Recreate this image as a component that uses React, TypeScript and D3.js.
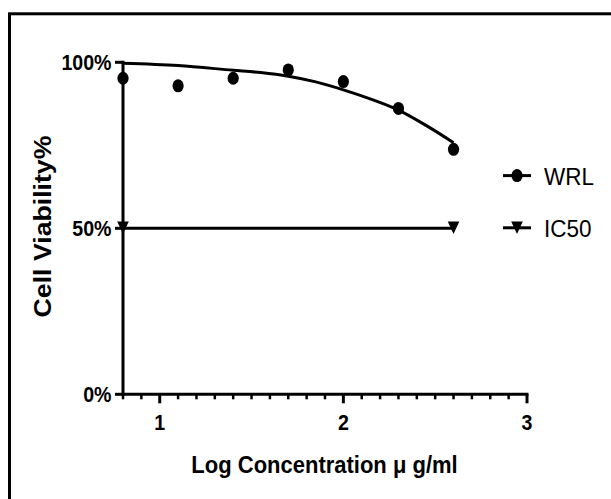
import React from "react";
import * as d3 from "d3";

const wrlX = [0.8, 1.1, 1.4, 1.7, 2.0, 2.3, 2.6];
const wrlY = [95.2, 92.9, 95.2, 97.7, 94.2, 86.1, 73.8];
const fitX = [0.8, 1.1, 1.4, 1.55, 1.7, 1.85, 2.0, 2.15, 2.3, 2.45, 2.6];
const fitY = [99.7, 99.0, 97.6, 96.9, 95.8, 94.1, 91.7, 88.9, 85.6, 81.0, 75.8];
const ic50X = [0.8, 2.6];
const ic50Y = [50, 50];
const xMajorTicks = [1, 2, 3];
const xMinorTicks = [0.8, 0.9, 1.1, 1.2, 1.3, 1.4, 1.5, 1.6, 1.7, 1.8, 1.9, 2.1, 2.2, 2.3, 2.4, 2.5, 2.6, 2.7, 2.8, 2.9];
const yTicks = [0, 50, 100];
const yTickLabels = ["0%", "50%", "100%"];
const legendNames = ["WRL", "IC50"];

const W = 611;
const H = 499;
const FONT = "'Liberation Sans', Arial, Helvetica, sans-serif";

export default function App() {
  const x = d3.scaleLinear().domain([0.8, 3]).range([123, 527]);
  const y = d3.scaleLinear().domain([0, 100]).range([394.3, 62.3]);

  const fitLine = d3
    .line<number>()
    .x((_, i) => x(fitX[i]))
    .y((d) => y(d))
    .curve(d3.curveMonotoneX);
  const ic50Line = d3
    .line<number>()
    .x((_, i) => x(ic50X[i]))
    .y((d) => y(d));

  const tri = (cx: number, cy: number) =>
    `M${cx - 5.8},${cy - 6.3}L${cx + 5.8},${cy - 6.3}L${cx},${cy + 6.3}Z`;

  const legendY = [175.6, 227.8];
  const lx0 = 503;
  const lx1 = 531;
  const lxc = (lx0 + lx1) / 2;

  return (
    <svg
      width={W}
      height={H}
      style={{ position: "absolute", left: 0, top: 0, background: "#fff" }}
    >
      <rect x={0} y={0} width={W} height={H} fill="#fff" />
      {/* outer frame (clipped at right / bottom) */}
      <rect x={9.5} y={13.8} width={640} height={540} fill="none" stroke="#000" strokeWidth={3} />

      {/* y axis */}
      <line x1={x(0.8)} x2={x(0.8)} y1={y(100) - 1.5} y2={y(0) + 1.5} stroke="#000" strokeWidth={3} />
      {yTicks.map((t, i) => (
        <g key={"yt" + t}>
          <line x1={x(0.8) - 8} x2={x(0.8)} y1={y(t)} y2={y(t)} stroke="#000" strokeWidth={3} />
          <text
            transform={`translate(${x(0.8) - 11.5},${y(t) + 8}) scale(1,1.15)`}
            textAnchor="end"
            fontFamily={FONT}
            fontWeight="bold"
            fontSize={19.6}
            fill="#000"
          >
            {yTickLabels[i]}
          </text>
        </g>
      ))}

      {/* x axis */}
      <line x1={x(0.8) - 1.5} x2={x(3) + 1.5} y1={y(0)} y2={y(0)} stroke="#000" strokeWidth={3} />
      {xMinorTicks.map((t) => (
        <line key={"xm" + t} x1={x(t)} x2={x(t)} y1={y(0)} y2={y(0) + 5} stroke="#000" strokeWidth={2.5} />
      ))}
      {xMajorTicks.map((t) => (
        <g key={"xt" + t}>
          <line x1={x(t)} x2={x(t)} y1={y(0)} y2={y(0) + 9} stroke="#000" strokeWidth={3} />
          <text
            transform={`translate(${x(t)},${430}) scale(1,1.15)`}
            textAnchor="middle"
            fontFamily={FONT}
            fontWeight="bold"
            fontSize={19.6}
            fill="#000"
          >
            {t}
          </text>
        </g>
      ))}

      {/* axis titles */}
      <text
        transform={`translate(${324.5},${473}) scale(1,1.12)`}
        textAnchor="middle"
        fontFamily={FONT}
        fontWeight="bold"
        fontSize={22}
        fill="#000"
      >
        Log Concentration μ g/ml
      </text>
      <text
        transform={`translate(${50.5},${226.5}) rotate(-90) scale(1.16,1)`}
        textAnchor="middle"
        fontFamily={FONT}
        fontWeight="bold"
        fontSize={23}
        fill="#000"
      >
        Cell Viability%
      </text>

      {/* fitted curve */}
      <path d={fitLine(fitY) || ""} fill="none" stroke="#000" strokeWidth={3} />
      {/* IC50 line */}
      <path d={ic50Line(ic50Y) || ""} fill="none" stroke="#000" strokeWidth={3} />
      {ic50X.map((v, i) => (
        <path key={"tri" + i} d={tri(x(v), y(ic50Y[i]) - 0.5)} fill="#000" />
      ))}

      {/* WRL points */}
      {wrlX.map((v, i) => (
        <ellipse key={"p" + i} cx={x(v)} cy={y(wrlY[i])} rx={5.6} ry={6.5} fill="#000" />
      ))}

      {/* legend */}
      {legendNames.map((n, i) => (
        <g key={"lg" + n}>
          <line x1={lx0} x2={lx1} y1={legendY[i]} y2={legendY[i]} stroke="#000" strokeWidth={3} />
          {i === 0 ? (
            <ellipse cx={lxc} cy={legendY[i]} rx={5.6} ry={6.5} fill="#000" />
          ) : (
            <path d={tri(lxc, legendY[i])} fill="#000" />
          )}
          <text
            transform={`translate(${544},${legendY[i] + 8.9}) scale(1,1.1)`}
            fontFamily={FONT}
            fontSize={22.5}
            fill="#000"
          >
            {n}
          </text>
        </g>
      ))}
    </svg>
  );
}
